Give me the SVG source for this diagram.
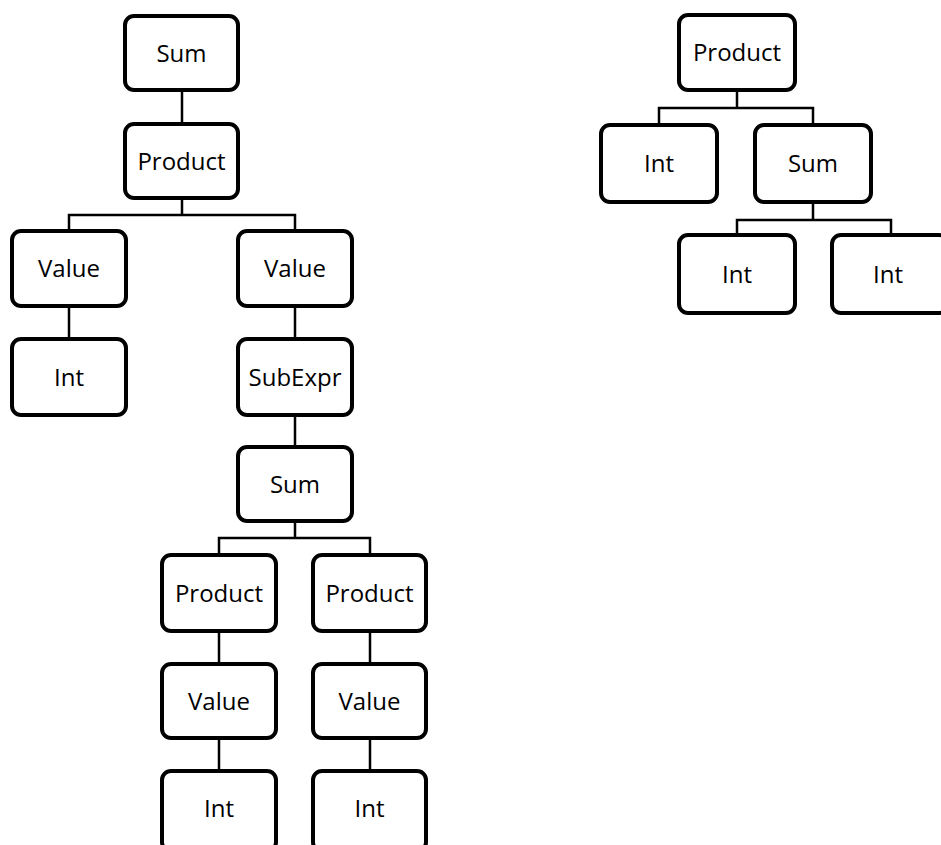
<svg xmlns="http://www.w3.org/2000/svg" width="941" height="845" viewBox="0 0 941 845">
<style>
.box{fill:#fff;stroke:#000;stroke-width:4}
.lbl{font-family:"Open Sans","Noto Sans",sans-serif;font-size:24px;fill:#000;text-anchor:middle}
.con{fill:none;stroke:#000;stroke-width:2.5}
</style>
<rect width="941" height="845" fill="#fff"/>
<g id="connectors">
<path class="con" d="M182 92V122"/>
<path class="con" d="M182 200V215M69 229V215H295V229"/>
<path class="con" d="M69 308V337"/>
<path class="con" d="M295 308V337"/>
<path class="con" d="M295 417V445"/>
<path class="con" d="M295 523V538M219 553V538H370V553"/>
<path class="con" d="M219 633V662"/>
<path class="con" d="M370 633V662"/>
<path class="con" d="M219 740V769"/>
<path class="con" d="M370 740V769"/>
<path class="con" d="M737 92V108M659 123V108H813V123"/>
<path class="con" d="M813 204V220M737 233V220H891V233"/>
</g>
<g id="sum1"><rect class="box" x="125" y="16" width="113" height="74" rx="9"/><text class="lbl" x="181.5" y="61.5">Sum</text></g>
<g id="product1"><rect class="box" x="125" y="124" width="113" height="74" rx="9"/><text class="lbl" x="181.5" y="169.5">Product</text></g>
<g id="value1"><rect class="box" x="12" y="231" width="114" height="75" rx="9"/><text class="lbl" x="69" y="277">Value</text></g>
<g id="int1"><rect class="box" x="12" y="339" width="114" height="76" rx="9"/><text class="lbl" x="69" y="385.5">Int</text></g>
<g id="value2"><rect class="box" x="238" y="231" width="114" height="75" rx="9"/><text class="lbl" x="295" y="277">Value</text></g>
<g id="subexpr"><rect class="box" x="238" y="339" width="114" height="76" rx="9"/><text class="lbl" x="295" y="385.5">SubExpr</text></g>
<g id="sum2"><rect class="box" x="238" y="447" width="114" height="74" rx="9"/><text class="lbl" x="295" y="492.5">Sum</text></g>
<g id="product2"><rect class="box" x="162" y="555" width="114" height="76" rx="9"/><text class="lbl" x="219" y="601.5">Product</text></g>
<g id="product3"><rect class="box" x="313" y="555" width="113" height="76" rx="9"/><text class="lbl" x="369.5" y="601.5">Product</text></g>
<g id="value3"><rect class="box" x="162" y="664" width="114" height="74" rx="9"/><text class="lbl" x="219" y="709.5">Value</text></g>
<g id="value4"><rect class="box" x="313" y="664" width="113" height="74" rx="9"/><text class="lbl" x="369.5" y="709.5">Value</text></g>
<g id="int2"><rect class="box" x="162" y="771" width="114" height="80" rx="9"/><text class="lbl" x="219" y="817">Int</text></g>
<g id="int3"><rect class="box" x="313" y="771" width="113" height="80" rx="9"/><text class="lbl" x="369.5" y="817">Int</text></g>
<g id="product4"><rect class="box" x="679" y="15" width="116" height="75" rx="9"/><text class="lbl" x="737" y="61">Product</text></g>
<g id="int4"><rect class="box" x="601" y="125" width="116" height="77" rx="9"/><text class="lbl" x="659" y="172">Int</text></g>
<g id="sum3"><rect class="box" x="755" y="125" width="116" height="77" rx="9"/><text class="lbl" x="813" y="172">Sum</text></g>
<g id="int5"><rect class="box" x="679" y="235" width="116" height="78" rx="9"/><text class="lbl" x="737" y="282.5">Int</text></g>
<g id="int6"><rect class="box" x="832" y="235" width="116" height="78" rx="9"/><text class="lbl" x="888" y="282.5">Int</text></g>
</svg>
